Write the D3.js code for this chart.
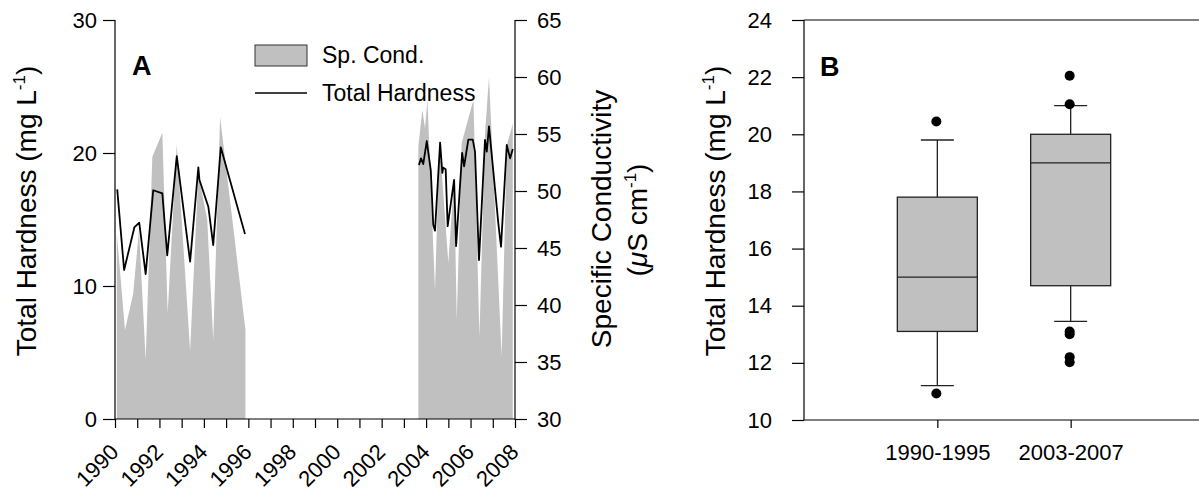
<!DOCTYPE html>
<html><head><meta charset="utf-8">
<script src="https://cdn.jsdelivr.net/npm/d3@7"></script>
<style>
body{margin:0;background:#fff;}
text{font-family:"Liberation Sans",Arial,sans-serif;fill:#000;}
</style></head>
<body>
<svg id="chart" width="1199" height="494"></svg>
<script>
// ---------- Panel A data ----------
const hardYears = [1990.10,1990.41,1990.87,1991.09,1991.38,1991.72,1992.13,1992.35,1992.78,1993.38,1993.75,1993.80,1994.20,1994.42,1994.76,1995.85,
  2000.0,
  2003.68,2003.77,2003.87,2004.03,2004.21,2004.32,2004.40,2004.63,2004.73,2004.77,2004.88,2004.97,2005.26,2005.35,2005.62,2005.71,2005.90,2006.10,2006.20,2006.38,2006.65,2006.73,2006.83,2007.25,2007.37,2007.63,2007.78,2007.90];
const hardValues = [17.27,11.2,14.4,14.76,10.9,17.2,16.97,12.3,19.77,11.83,18.92,17.97,15.96,13.08,20.43,13.9,
  null,
  19.1,19.6,19.17,20.9,18.7,14.6,14.16,20.77,18.5,18.9,18.77,14.5,17.97,13.0,20.0,19.0,21.0,21.0,20.1,11.95,20.98,20.1,22.0,14.7,12.95,20.6,19.6,20.3];

const condYears = [1990.08,1990.45,1990.82,1991.08,1991.38,1991.68,1992.13,1992.37,1992.78,1993.38,1993.75,1994.15,1994.42,1994.73,1995.87,
  2000.0,
  2003.65,2003.83,2003.95,2004.06,2004.40,2004.60,2005.00,2005.26,2005.38,2005.60,2006.13,2006.40,2006.65,2006.83,2007.40,2007.63,2007.90];
const condValues = [46.3,37.8,41.0,46.6,35.2,53.0,55.1,39.3,54.1,36.0,51.5,47.5,36.9,56.5,37.8,
  null,
  53.9,57.1,55.5,58.0,41.3,54.5,43.7,51.0,38.7,54.2,58.0,37.2,55.0,60.0,35.5,54.0,55.9];

const hardTicks = [0,10,20,30];
const condTicks = [30,35,40,45,50,55,60,65];
const yearTicks = d3.range(1990,2009,1);
const yearLabels = [1990,1992,1994,1996,1998,2000,2002,2004,2006,2008];

// ---------- Panel B data ----------
const groups = ["1990-1995","2003-2007"];
const boxQ1 = [13.1,14.7];
const boxMedian = [15.0,19.0];
const boxQ3 = [17.8,20.0];
const whiskerLow = [11.2,13.45];
const whiskerHigh = [19.8,21.0];
const outliers1990 = [20.45,10.93];
const outliers2003 = [22.05,21.05,13.1,13.0,12.2,12.02];
const bTicks = [10,12,14,16,18,20,22,24];

const svg = d3.select("#chart");
const FS = 22;

// ================= Panel A =================
const ax = d3.scaleLinear().domain([1990,2008]).range([115,515]);
const ayL = d3.scaleLinear().domain([0,30]).range([419,20]);
const ayR = d3.scaleLinear().domain([30,65]).range([419,20]);

const condData = condYears.map((y,i)=>({x:y,v:condValues[i]}));
const hardData = hardYears.map((y,i)=>({x:y,v:hardValues[i]}));

const area = d3.area().defined(d=>d.v!==null)
  .x(d=>ax(d.x)).y0(ayR(30)).y1(d=>ayR(d.v));
svg.append("path").datum(condData).attr("d",area).attr("fill","#c0c0c0").attr("stroke","none");

const line = d3.line().defined(d=>d.v!==null).x(d=>ax(d.x)).y(d=>ayL(d.v));
svg.append("path").datum(hardData).attr("d",line).attr("fill","none").attr("stroke","#000").attr("stroke-width",1.8).attr("stroke-linejoin","round");

// left axis
const gL = svg.append("g").attr("transform","translate(115,0)")
  .call(d3.axisLeft(ayL).tickValues(hardTicks).tickSize(12).tickPadding(6).tickFormat(d3.format("d")));
// right axis
const gR = svg.append("g").attr("transform","translate(515,0)")
  .call(d3.axisRight(ayR).tickValues(condTicks).tickSize(12).tickPadding(10).tickFormat(d3.format("d")));
// bottom axis
const gB = svg.append("g").attr("transform","translate(0,419)")
  .call(d3.axisBottom(ax).tickValues(yearTicks).tickSize(9).tickFormat(d=>yearLabels.includes(d)?String(d):""));
gB.selectAll(".tick text").attr("text-anchor","end").attr("x",0).attr("y",0).attr("dx",0).attr("dy","0.35em")
  .attr("transform","translate(-1,29) rotate(-45)");
[gL,gR,gB].forEach(g=>{
  g.selectAll(".domain").attr("stroke","#000").attr("stroke-width",1.2);
  g.selectAll(".tick line").attr("stroke","#000").attr("stroke-width",1.2);
  g.selectAll("text").attr("font-size",FS).attr("font-family","Liberation Sans, Arial, sans-serif").attr("fill","#000");
});
gL.select(".domain").attr("d","M0,420V20");
gR.select(".domain").attr("d","M0,420V20");
gB.select(".domain").attr("d","M115,0H515");

// titles
const tA = svg.append("text").attr("transform","translate(36,211) rotate(-90)").attr("text-anchor","middle").attr("font-size",28);
tA.append("tspan").text("Total Hardness (mg L");
tA.append("tspan").attr("font-size",17).attr("dy",-11).text("-1");
tA.append("tspan").attr("dy",11).text(")");

const tR1 = svg.append("text").attr("transform","translate(611,219) rotate(-90)").attr("text-anchor","middle").attr("font-size",28).text("Specific Conductivity");
const tR2 = svg.append("text").attr("transform","translate(647,220) rotate(-90)").attr("text-anchor","middle").attr("font-size",28);
tR2.append("tspan").text("(");
tR2.append("tspan").attr("font-style","italic").text("μ");
tR2.append("tspan").text("S cm");
tR2.append("tspan").attr("font-size",17).attr("dy",-11).text("-1");
tR2.append("tspan").attr("dy",11).text(")");

svg.append("text").attr("x",132).attr("y",75).attr("font-size",27).attr("font-weight","bold").text("A");

// legend
svg.append("rect").attr("x",255).attr("y",45).attr("width",52).attr("height",21).attr("fill","#c0c0c0").attr("stroke","#333").attr("stroke-width",1);
svg.append("line").attr("x1",255).attr("x2",307).attr("y1",93).attr("y2",93).attr("stroke","#000").attr("stroke-width",1.6);
svg.append("text").attr("x",322).attr("y",63).attr("font-size",23).text("Sp. Cond.");
svg.append("text").attr("x",322).attr("y",101).attr("font-size",23).text("Total Hardness");

// ================= Panel B =================
const bx = d3.scalePoint().domain(groups).range([804,1204]).padding(1);
const by = d3.scaleLinear().domain([10,24]).range([420,20]);

svg.append("line").attr("x1",804).attr("x2",1199).attr("y1",20).attr("y2",20).attr("stroke","#000").attr("stroke-width",1.2);
const gBL = svg.append("g").attr("transform","translate(804,0)")
  .call(d3.axisLeft(by).tickValues(bTicks).tickSize(12).tickPadding(20).tickFormat(d3.format("d")));
const gBB = svg.append("g").attr("transform","translate(0,420)")
  .call(d3.axisBottom(bx).tickSize(8).tickPadding(16));
[gBL,gBB].forEach(g=>{
  g.selectAll(".domain").attr("stroke","#000").attr("stroke-width",1.2);
  g.selectAll(".tick line").attr("stroke","#000").attr("stroke-width",1.2);
  g.selectAll("text").attr("font-size",FS).attr("font-family","Liberation Sans, Arial, sans-serif").attr("fill","#000");
});
gBL.select(".domain").attr("d","M0,420V20");
gBB.select(".domain").attr("d","M804,0H1199");

const tB = svg.append("text").attr("transform","translate(725,211) rotate(-90)").attr("text-anchor","middle").attr("font-size",28);
tB.append("tspan").text("Total Hardness (mg L");
tB.append("tspan").attr("font-size",17).attr("dy",-11).text("-1");
tB.append("tspan").attr("dy",11).text(")");

svg.append("text").attr("x",820).attr("y",76).attr("font-size",27).attr("font-weight","bold").text("B");

const bw = 80, cw = 33;
groups.forEach((g,i)=>{
  const cx = bx(g);
  const G = svg.append("g");
  G.append("line").attr("x1",cx).attr("x2",cx).attr("y1",by(whiskerHigh[i])).attr("y2",by(boxQ3[i])).attr("stroke","#222").attr("stroke-width",1.3);
  G.append("line").attr("x1",cx).attr("x2",cx).attr("y1",by(boxQ1[i])).attr("y2",by(whiskerLow[i])).attr("stroke","#222").attr("stroke-width",1.3);
  G.append("line").attr("x1",cx-cw/2).attr("x2",cx+cw/2).attr("y1",by(whiskerHigh[i])).attr("y2",by(whiskerHigh[i])).attr("stroke","#222").attr("stroke-width",1.3);
  G.append("line").attr("x1",cx-cw/2).attr("x2",cx+cw/2).attr("y1",by(whiskerLow[i])).attr("y2",by(whiskerLow[i])).attr("stroke","#222").attr("stroke-width",1.3);
  G.append("rect").attr("x",cx-bw/2).attr("width",bw).attr("y",by(boxQ3[i])).attr("height",by(boxQ1[i])-by(boxQ3[i]))
    .attr("fill","#c0c0c0").attr("stroke","#222").attr("stroke-width",1.3);
  G.append("line").attr("x1",cx-bw/2).attr("x2",cx+bw/2).attr("y1",by(boxMedian[i])).attr("y2",by(boxMedian[i])).attr("stroke","#222").attr("stroke-width",1.3);
  const outs = i===0?outliers1990:outliers2003;
  G.selectAll("circle").data(outs).join("circle").attr("cx",cx-1).attr("cy",d=>by(d)).attr("r",5).attr("fill","#000");
});
</script>
</body></html>
